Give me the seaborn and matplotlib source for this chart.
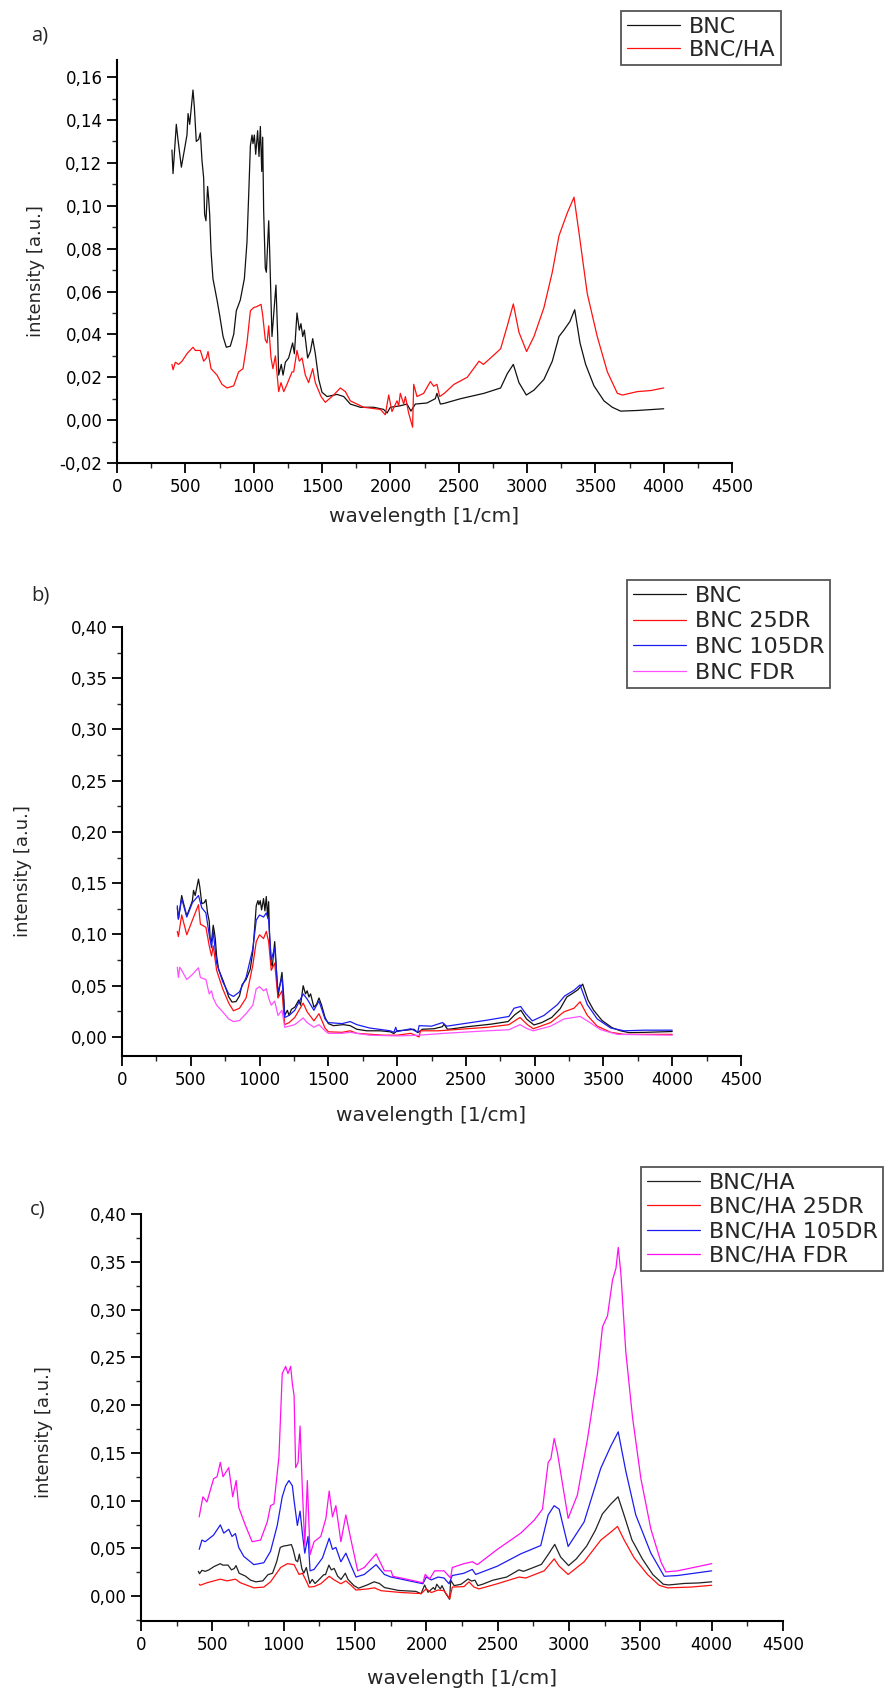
import matplotlib
matplotlib.use("Agg")
import matplotlib.pyplot as plt
from matplotlib.ticker import MultipleLocator, FuncFormatter
import seaborn as sns

sns.set_style("ticks")
plt.rcParams['font.family'] = ['DejaVu Sans']

# ---------------- data ----------------
# BNC (panel a black, panel b black)
wn_bnc = [402, 410, 434, 446, 471, 493, 512, 520, 532, 541, 556, 566, 580, 598, 610, 622, 634, 641, 651, 663,
          671, 678, 688, 702, 732, 751, 776, 800, 829, 854, 873, 902, 932, 951, 963, 976, 988, 995, 1005, 1015,
          1029, 1039, 1049, 1059, 1066, 1073, 1085, 1093, 1110, 1117, 1134, 1163, 1176, 1183, 1202, 1215, 1232,
          1256, 1285, 1298, 1317, 1334, 1346, 1359, 1371, 1395, 1415, 1432, 1451, 1476, 1500, 1537, 1610, 1659,
          1707, 1780, 1878, 1951, 1976, 2000, 2073, 2122, 2151, 2183, 2268, 2329, 2341, 2366,
          2393, 2514, 2685, 2807, 2856, 2900, 2941, 2995, 3051, 3124, 3185, 3234, 3270, 3314, 3349, 3388, 3429,
          3490, 3563, 3624, 3685, 3807, 4000]
bnc = [.126, .115, .138, .131, .118, .126, .133, .143, .138, .144, .154, .146, .130, .131, .134, .121, .113, .096,
       .093, .109, .103, .096, .079, .066, .056, .049, .039, .034, .0345, .040, .051, .056, .066, .083, .104, .128,
       .133, .129, .133, .124, .135, .123, .137, .116, .132, .098, .071, .069, .093, .079, .039, .063, .039, .021,
       .026, .021, .027, .029, .036, .031, .050, .042, .045, .039, .042, .029, .032, .038, .031, .019, .013, .011,
       .012, .011, .0075, .006, .006, .005, .0033, .006, .0067, .0075, .0042, .0075, .008, .010, .0125, .0075,
       .0078, .010, .0125, .015, .0217, .026, .0175, .0117, .014, .019, .0275, .039, .042, .046, .0515, .036, .026,
       .016, .009, .006, .0042, .0045, .0053]

# BNC/HA (panel a red, panel c black)
wn_bnc_ha = [402, 410, 427, 451, 476, 512, 556, 573, 610, 634, 654, 666, 688, 732, 768, 805, 854, 890, 922, 951,
             976, 1000, 1024, 1054, 1066, 1085, 1098, 1110, 1127, 1141, 1159, 1183, 1200, 1220, 1244, 1281, 1293,
             1317, 1334, 1354, 1378, 1402, 1432, 1451, 1493, 1524, 1585, 1634, 1671, 1707, 1805, 1927, 1963, 1988,
             2012, 2049, 2061, 2073, 2098, 2110, 2134, 2163, 2171, 2195, 2244, 2293, 2317, 2341, 2361, 2395,
             2466, 2563, 2649, 2681, 2734, 2807, 2856, 2900, 2941, 2997, 3051, 3124, 3185, 3234, 3295, 3344, 3380,
             3441, 3514, 3588, 3661, 3698, 3807, 3905, 4000]
bnc_ha = [.026, .0235, .027, .026, .0275, .031, .034, .0325, .0325, .0275, .029, .032, .024, .021, .0167, .015,
          .016, .0225, .024, .036, .051, .0525, .053, .054, .049, .0375, .036, .044, .029, .024, .030, .0133, .0175,
          .0133, .0167, .0225, .0225, .0325, .0275, .029, .021, .0175, .024, .0175, .011, .0083, .0117, .015, .0133,
          .009, .006, .005, .0025, .0117, .004, .009, .0067, .0125, .0075, .011, .0033, -.0033, .0167, .011, .0125,
          .018, .0158, .0167, .011, .0125,
          .0167, .020, .0275, .026, .029, .0333, .044, .0542, .041, .032, .039, .0525, .069, .086, .0967, .104,
          .0876, .059, .039, .0225, .0125, .0117, .0133, .0138, .015]

# BNC 25DR (panel b red)
wn_bnc25 = [402, 410, 434, 471, 512, 556, 570, 610, 634, 651, 663, 688, 732, 776, 810, 854, 902, 951, 976, 1000,
            1029, 1049, 1066, 1085, 1110, 1134, 1163, 1183, 1215, 1256, 1317, 1346, 1395, 1432, 1476, 1500, 1600,
            1659, 1707, 1900, 2000, 2100, 2160, 2170, 2300, 2656, 2813, 2893, 2947, 2990, 3116, 3213, 3286, 3330,
            3383, 3455, 3553, 3650, 4000]
bnc25 = [.103, .098, .119, .0997, .114, .129, .110, .107, .089, .079, .089, .065, .047, .033, .0255, .028, .038,
         .070, .093, .0997, .096, .103, .093, .065, .072, .038, .045, .012, .014, .019, .033, .0245, .0157, .0227,
         .0087, .005, .0045, .006, .0035, .0017, .0017, .0035, 0.0, .006, .006, .0094, .012, .019, .012, .008, .014,
         .0245, .028, .0343, .021, .0105, .0045, .0025, .0025]

# BNC 105DR (panel b blue)
wn_bnc105 = [402, 410, 434, 471, 512, 556, 580, 610, 634, 651, 663, 688, 732, 776, 810, 854, 902, 951, 976, 1000,
             1029, 1049, 1066, 1085, 1110, 1134, 1163, 1183, 1215, 1256, 1317, 1346, 1395, 1432, 1476, 1500, 1600,
             1659, 1707, 1800, 1950, 1976, 1990, 2000, 2100, 2150, 2160, 2250, 2330, 2360, 2486, 2656, 2813, 2850,
             2898, 2935, 2983, 3068, 3165, 3218, 3286, 3330, 3383, 3455, 3553, 3650, 3795, 4000]
bnc105 = [.128, .115, .135, .117, .131, .138, .126, .121, .0997, .087, .103, .072, .054, .042, .0395, .044, .058,
          .086, .114, .119, .117, .121, .114, .075, .087, .044, .058, .019, .021, .026, .042, .037, .026, .035, .0175,
          .014, .013, .015, .012, .0087, .006, .0045, .0094, .0052, .008, .0045, .011, .0105, .014, .0105, .013,
          .0164, .020, .028, .0297, .0227, .0157, .021, .0315, .040, .0455, .0507, .0315, .0175, .0087, .006, .0066,
          .0066]

# BNC FDR (panel b magenta)
wn_bncfdr = [402, 410, 420, 434, 471, 512, 556, 570, 610, 634, 651, 663, 688, 732, 776, 810, 854, 902, 951, 976,
             1000, 1029, 1049, 1066, 1085, 1110, 1134, 1163, 1183, 1215, 1256, 1317, 1346, 1395, 1432, 1476, 1500,
             1600, 1659, 1800, 2000, 2160, 2341, 2656, 2813, 2893, 2947, 2990, 3116, 3213, 3330, 3383, 3480, 3601,
             4000]
bncfdr = [.068, .058, .068, .065, .056, .061, .0675, .058, .056, .042, .045, .038, .031, .0245, .0175, .015, .016,
          .0227, .031, .047, .049, .045, .047, .038, .031, .035, .021, .026, .0094, .0105, .012, .0185, .014, .0094,
          .012, .006, .0035, .0035, .0045, .0017, .001, .0017, .0035, .006, .007, .012, .008, .006, .0105, .0175,
          .020, .0157, .007, .0025, .0017]

# BNC/HA 25DR (panel c red)
wn_ha25 = [408, 415, 462, 556, 603, 662, 697, 791, 861, 908, 979, 1026, 1073, 1108, 1131, 1155, 1178, 1213, 1260,
           1319, 1354, 1401, 1436, 1472, 1507, 1589, 1636, 1683, 1824, 1964, 1999, 2035, 2082, 2124, 2164, 2182,
           2264, 2299, 2334, 2369, 2498, 2650, 2697, 2826, 2896, 2931, 2994, 3106, 3223, 3293, 3340, 3387, 3457,
           3550, 3632, 3691, 3854, 4000]
ha25 = [.0125, .0114, .014, .0178, .016, .0178, .014, .0087, .0095, .015, .030, .034, .033, .0227, .024, .017,
        .0095, .010, .013, .0208, .017, .013, .016, .0114, .0064, .0076, .0087, .0057, .0038, .0027, .0076, .0038,
        .0064, .0057, -.0027, .0095, .010, .015, .0095, .0076, .013, .020, .019, .0265, .039, .0314, .0227, .036,
        .0587, .067, .073, .0587, .040, .0227, .0114, .0087, .0095, .0114]

# BNC/HA 105DR (panel c blue)
wn_ha105 = [408, 427, 450, 509, 556, 580, 615, 638, 662, 685, 720, 791, 861, 908, 955, 990, 1014, 1037, 1061, 1073,
            1096, 1115, 1131, 1148, 1171, 1185, 1213, 1272, 1319, 1342, 1366, 1401, 1436, 1472, 1507, 1565, 1648,
            1706, 1753, 1824, 1976, 1999, 2035, 2082, 2124, 2159, 2182, 2264, 2322, 2346, 2498, 2662, 2802, 2854,
            2896, 2931, 2994, 3106, 3223, 3293, 3345, 3398, 3468, 3574, 3667, 3761, 4000]
ha105 = [.049, .0587, .057, .064, .0746, .066, .070, .0625, .0655, .051, .0417, .033, .035, .047, .074, .104, .1155,
         .121, .1155, .100, .074, .089, .066, .045, .0625, .0265, .028, .040, .0606, .049, .051, .036, .045, .032,
         .020, .0227, .033, .0227, .020, .0178, .013, .020, .017, .020, .019, .013, .0216, .024, .028, .0227, .0314,
         .0443, .053, .085, .0947, .091, .052, .0777, .134, .157, .172, .131, .085, .045, .0208, .0216, .0265]

# BNC/HA FDR (panel c magenta)
wn_hafdr = [408, 415, 434, 462, 509, 533, 556, 575, 615, 643, 667, 685, 732, 779, 838, 885, 908, 932, 967, 990,
            1014, 1030, 1049, 1061, 1073, 1084, 1101, 1115, 1131, 1148, 1166, 1185, 1213, 1260, 1296, 1319, 1342,
            1366, 1401, 1436, 1472, 1519, 1565, 1648, 1706, 1753, 1765, 1824, 1976, 1992, 2023, 2058, 2124, 2170,
            2182, 2264, 2322, 2358, 2498, 2662, 2756, 2814, 2854, 2873, 2896, 2919, 2994, 3059, 3130, 3200, 3235,
            3270, 3305, 3329, 3345, 3363, 3398, 3445, 3504, 3574, 3644, 3679, 3761, 4000]
hafdr = [.083, .089, .104, .0985, .123, .125, .140, .125, .1345, .104, .121, .093, .074, .057, .0587, .0777, .0947,
         .0966, .146, .233, .2405, .233, .2405, .222, .210, .1345, .140, .178, .112, .053, .121, .0435, .057, .0625,
         .0814, .110, .083, .0947, .057, .085, .0587, .0265, .030, .0443, .0265, .0265, .0208, .019, .014, .0227,
         .018, .0265, .0265, .019, .030, .034, .036, .033, .049, .066, .0795, .091, .140, .144, .165, .150, .0814,
         .106, .165, .233, .282, .2935, .331, .343, .365, .339, .256, .1875, .123, .070, .036, .0254, .0265, .034]

labels_a = ["BNC", "BNC/HA"]
labels_b = ["BNC", "BNC 25DR", "BNC 105DR", "BNC FDR"]
labels_c = ["BNC/HA", "BNC/HA 25DR", "BNC/HA 105DR", "BNC/HA FDR"]

# ---------------- figure ----------------
W, H = 894, 1688
fig = plt.figure(figsize=(W / 100, H / 100), dpi=100)


def add_ax(l, r, t, b):
    return fig.add_axes([l / W, 1 - b / H, (r - l) / W, (b - t) / H])


ax_a = add_ax(117, 732, 60, 463)
ax_b = add_ax(122, 741, 627, 1056)
ax_c = add_ax(141, 783, 1214, 1621)

BLACK, RED, BLUE, MAG = "#111111", "#ff1010", "#1c1cf0", "#ff10f0"

panels = [
    (ax_a, [(wn_bnc, bnc, BLACK), (wn_bnc_ha, bnc_ha, RED)], labels_a, (-0.02, 0.168), 0.02, 0.01),
    (ax_b, [(wn_bnc, bnc, BLACK), (wn_bnc25, bnc25, RED), (wn_bnc105, bnc105, BLUE),
            (wn_bncfdr, bncfdr, "#ff50ff")], labels_b, (-0.0186, 0.40), 0.05, 0.025),
    (ax_c, [(wn_bnc_ha, bnc_ha, "#222222"), (wn_ha25, ha25, RED), (wn_ha105, ha105, BLUE),
            (wn_hafdr, hafdr, MAG)], labels_c, (-0.026, 0.40), 0.05, 0.025),
]

legend_anchor = [(621, 11), (627, 580), (641, 1167)]
legend_spacing = [0.14, 0.26, 0.2]
ylabel_x = [-0.117, -0.145, -0.137]
ylabel_y = [0.476, 0.431, 0.464]
xlabel_y = [-0.109, -0.117, -0.118]
fmt = FuncFormatter(lambda v, p: f"{v:.2f}".replace(".", ","))

for i, (ax, series, labels, ylim, ymaj, ymin) in enumerate(panels):
    handles = []
    for (wn, vals, col), lab in zip(series, labels):
        sns.lineplot(x=wn, y=vals, ax=ax, color=col, linewidth=0.9, label=lab, legend=False)
        handles.append(ax.get_lines()[-1])
    ax.set_xlim(0, 4500)
    ax.set_ylim(*ylim)
    ax.xaxis.set_major_locator(MultipleLocator(500))
    ax.xaxis.set_minor_locator(MultipleLocator(250))
    ax.yaxis.set_major_locator(MultipleLocator(ymaj))
    ax.yaxis.set_minor_locator(MultipleLocator(ymin))
    ax.yaxis.set_major_formatter(fmt)
    for s in ("top", "right"):
        ax.spines[s].set_visible(False)
    for s in ("left", "bottom"):
        ax.spines[s].set_linewidth(1.5)
        ax.spines[s].set_color("black")
    ax.tick_params(which="major", direction="out", length=7, width=1.3, labelsize=12, pad=3.5, colors="black")
    ax.tick_params(which="minor", direction="out", length=3.5, width=1.0)
    ax.set_xlabel("wavelength [1/cm]", fontsize=14.5)
    ax.set_ylabel("intensity [a.u.]", fontsize=13)
    ax.xaxis.set_label_coords(0.5, xlabel_y[i])
    ax.xaxis.label.set_va("top")
    ax.yaxis.set_label_coords(ylabel_x[i], ylabel_y[i])
    lx, ly = legend_anchor[i]
    leg = ax.legend(handles, labels, loc="upper left", bbox_to_anchor=(lx / W, 1 - ly / H),
                    bbox_transform=fig.transFigure, frameon=True, fancybox=False, framealpha=1,
                    edgecolor="#555555", fontsize=16, handlelength=2.4, handletextpad=0.4,
                    borderpad=0.25, labelspacing=legend_spacing[i], borderaxespad=0)
    leg.get_frame().set_linewidth(1.3)

for txt, (px, py) in zip(["a)", "b)", "c)"], [(31, 36), (31, 596), (30, 1209)]):
    fig.text(px / W, 1 - py / H, txt, fontsize=14.5, family=["Open Sans", "DejaVu Sans"], va="center", ha="left")

fig.savefig("out.png", dpi=100)
